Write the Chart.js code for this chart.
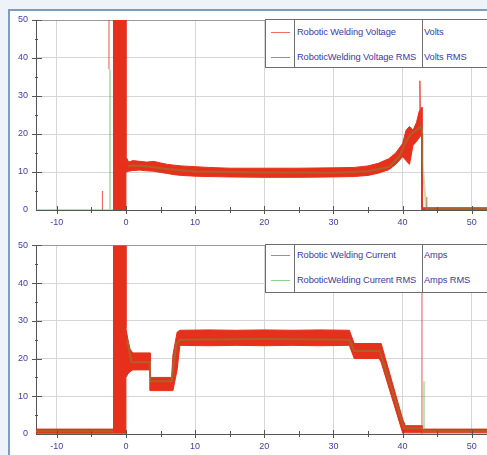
<!DOCTYPE html>
<html>
<head>
<meta charset="utf-8">
<script src="https://cdn.jsdelivr.net/npm/chart.js@4/dist/chart.umd.min.js"></script>
<style>
  html, body { margin: 0; padding: 0; }
  body { width: 487px; height: 455px; overflow: hidden; position: relative; background: #eef3f9; font-family: "Liberation Sans", Arial, sans-serif; }
  #frame { position: absolute; left: 8px; top: 9px; width: 520px; height: 480px; border: 2px solid #7d9dbd; background: #fff; }
  .wrap { position: absolute; left: 0; width: 487px; }
  #top { top: 0; height: 232px; }
  #bot { top: 232px; height: 223px; }
  .legend { position: absolute; left: 265px; width: 240px; height: 47px; border: 1px solid #6e6e6e; background: #fff; font-size: 9.3px; color: #3a3aa8; letter-spacing: -0.1px; }
  .legend .c1 { position: absolute; left: 28px; top: 0; bottom: 0; border-left: 1px solid #6e6e6e; }
  .legend .c2 { position: absolute; left: 156px; top: 0; bottom: 0; border-left: 1px solid #6e6e6e; }
  .legend .row { position: absolute; left: 0; right: 0; height: 11px; line-height: 11px; }
  .legend .sw { position: absolute; left: 5px; top: 5px; width: 19px; height: 1px; }
  .legend .nm { position: absolute; left: 31px; white-space: nowrap; }
  .legend .un { position: absolute; left: 158px; white-space: nowrap; }
</style>
</head>
<body>
<div id="frame"></div>
<div class="wrap" id="top"><canvas id="voltChart"></canvas></div>
<div class="wrap" id="bot"><canvas id="ampChart"></canvas></div>

<div class="legend" style="top:19px">
  <div class="c1"></div><div class="c2"></div>
  <div class="row" style="top:7px"><div class="sw" style="background:#f26a6a"></div><span class="nm">Robotic Welding Voltage</span><span class="un">Volts</span></div>
  <div class="row" style="top:32px"><div class="sw" style="background:#5cb85c"></div><span class="nm">RoboticWelding Voltage RMS</span><span class="un">Volts RMS</span></div>
</div>
<div class="legend" style="top:244px">
  <div class="c1"></div><div class="c2"></div>
  <div class="row" style="top:5px"><div class="sw" style="background:#f26a6a"></div><span class="nm">Robotic Welding Current</span><span class="un">Amps</span></div>
  <div class="row" style="top:30px"><div class="sw" style="background:#8fcf8f"></div><span class="nm">RoboticWelding Current RMS</span><span class="un">Amps RMS</span></div>
</div>

<script>
// x range and tick labels (seconds)
const X_MIN = -13;
const X_MAX = 52.2;
const xTicks = [-10, 0, 10, 20, 30, 40, 50];
const yTicks = [0, 10, 20, 30, 40, 50];

// voltage: noisy band read as upper / lower envelope
const voltX  = [-1.8, -1.8, 0, 0, 0.4, 1, 2, 3, 4, 5, 6, 7, 8, 10, 12, 15, 20, 25, 30, 33, 35, 36.5, 38, 39, 40, 40.5, 41, 41.5, 42, 42.4, 42.8, 42.8, 52.2];
const voltHi = [0, 50, 50, 14, 12.6, 13, 12.8, 12.6, 12.8, 12.4, 12, 11.8, 11.6, 11.4, 11.2, 11, 11, 11, 11.1, 11.2, 11.6, 12.3, 13.5, 15, 17.5, 21, 22, 21, 23, 26, 27, 0.6, 0.6];
const voltLo = [0, 0, 0, 10, 10.2, 10.4, 10.5, 10.3, 10.2, 9.9, 9.6, 9.3, 9.1, 8.9, 8.8, 8.7, 8.6, 8.6, 8.7, 8.8, 9.1, 9.7, 10.6, 12, 14, 13, 12, 17, 18, 19, 20, 0, 0];
const voltRmsX = [-13, -2.3, -2.3, -2.3, -1.8, 0.1, 0.3, 1, 3, 6, 10, 20, 30, 35, 38, 39.5, 40.5, 41.2, 42, 42.6, 42.9, 42.9, 43.4, 52.2];
const voltRmsY = [0, 0, 37, 0, 0, null, 11.6, 11.7, 11.5, 10.8, 10.1, 9.9, 9.8, 10.2, 11.3, 14, 18, 20, 21, 22, 20, 12, 0.3, 0.3];
const voltSpikeX = [-3.4, -3.4, -3.4, -2.45, -2.45, -2.45, 42.45, 42.5, 42.6, 42.6, 43.5, 43.5];
const voltSpikeY = [0, 5, null, 37, 50, null, 26, 34, 22, null, 0, 3.4];

// current
const ampX  = [-13, -1.8, -1.8, 0, 0, 0.3, 0.6, 1, 3.5, 3.5, 6.6, 6.8, 7.4, 7.8, 12, 16, 20, 24, 28, 32.3, 33, 36.6, 36.9, 40.0, 40.4, 42.8, 42.8, 52.2];
const ampHi = [1.3, 1.3, 50, 50, 28, 25, 22.5, 21.5, 21.5, 15, 15, 21, 27, 27.5, 27.6, 27.5, 27.6, 27.5, 27.6, 27.5, 24, 24, 24, 4, 2.2, 2.2, 1.3, 1.3];
const ampLo = [0.2, 0.2, 0.2, 0.2, 15, 16, 16.5, 17, 17, 11.5, 11.5, 11.5, 17, 23.5, 23.4, 23.5, 23.4, 23.5, 23.4, 23.5, 20, 20, 19, 0.3, 0.3, 0.3, 0.3, 0.3];
const ampRmsX = [-13, -1.8, -1.8, 0.2, 0.8, 3.5, 3.5, 6.6, 7.3, 7.8, 20, 32.3, 33, 36.7, 40.2, 42.8, 43.1, 43.1, 43.1, 52.2];
const ampRmsY = [0.7, 0.7, null, 25, 19, 19, 14, 14, 24, 25, 25.2, 25, 22, 22, 1.5, 1.5, 1.3, 14, 0.7, 0.7];
const ampSpikeX = [42.8, 42.8];
const ampSpikeY = [0, 50];

const RED = "rgb(230,48,28)";
const RMS = "rgba(80,180,60,0.38)";
const AXIS = "#555";
const LABEL = "#4040a8";

function pts(xs, ys) {
    return xs.map((x, i) => ({ x: x, y: ys[i] }));
}

const axisTicks = {
    id: "axisTicks",
    afterDraw(chart) {
        const { ctx, chartArea, scales } = chart;
        ctx.save();
        ctx.strokeStyle = AXIS;
        ctx.lineWidth = 1;
        for (let v = -10; v <= 50; v += 5) {
            const px = Math.round(scales.x.getPixelForValue(v)) + 0.5;
            const len = v % 10 === 0 ? 4 : 3;
            ctx.beginPath();
            ctx.moveTo(px, chartArea.bottom - len);
            ctx.lineTo(px, chartArea.bottom + len);
            ctx.stroke();
        }
        for (let v = 5; v <= 50; v += 5) {
            const py = Math.round(scales.y.getPixelForValue(v)) + 0.5;
            const major = v % 10 === 0;
            ctx.beginPath();
            ctx.moveTo(chartArea.left - (major ? 4 : 1), py);
            ctx.lineTo(chartArea.left + (major ? 6 : 2), py);
            ctx.stroke();
        }
        ctx.restore();
    },
};

function makeChart(canvasId, band, rms, spikes, topPad, xHeight) {
    return new Chart(document.getElementById(canvasId), {
        type: "line",
        data: {
            datasets: [
                {
                    // RMS on top of the band
                    data: pts(rms.x, rms.y),
                    borderColor: RMS,
                    borderWidth: 2,
                    pointRadius: 0,
                    spanGaps: false,
                    fill: false,
                },
                {
                    data: pts(spikes.x, spikes.y),
                    borderColor: "rgba(232,60,40,0.85)",
                    borderWidth: 1,
                    pointRadius: 0,
                    spanGaps: false,
                    fill: false,
                },
                {
                    data: pts(band.x, band.hi),
                    borderColor: RED,
                    borderWidth: 1,
                    backgroundColor: RED,
                    pointRadius: 0,
                    fill: "+1",
                },
                {
                    data: pts(band.x, band.lo),
                    borderColor: RED,
                    borderWidth: 1,
                    pointRadius: 0,
                    fill: false,
                },
            ],
        },
        options: {
            responsive: true,
            maintainAspectRatio: false,
            animation: false,
            events: [],
            layout: { padding: { left: 0, top: topPad, right: 0, bottom: 0 } },
            plugins: { legend: { display: false }, tooltip: { enabled: false } },
            scales: {
                x: {
                    type: "linear",
                    min: X_MIN,
                    max: X_MAX,
                    afterBuildTicks: (s) => { s.ticks = xTicks.map((v) => ({ value: v })); },
                    afterFit: (s) => { s.height = xHeight; },
                    grid: { color: "#d6d6d6", drawTicks: false },
                    border: { color: AXIS },
                    ticks: { color: LABEL, padding: 7, font: { family: "Liberation Sans", size: 9 } },
                },
                y: {
                    min: 0,
                    max: 50,
                    afterBuildTicks: (s) => { s.ticks = yTicks.map((v) => ({ value: v })); },
                    afterFit: (s) => { s.width = 36; },
                    grid: {
                        color: (c) => (c.tick && c.tick.value === 50 ? "#9a9a9a" : "#d6d6d6"),
                        drawTicks: false,
                    },
                    border: { color: AXIS },
                    ticks: { color: LABEL, padding: 8, font: { family: "Liberation Sans", size: 9 } },
                },
            },
        },
        plugins: [axisTicks],
    });
}

makeChart(
    "voltChart",
    { x: voltX, hi: voltHi, lo: voltLo },
    { x: voltRmsX, y: voltRmsY },
    { x: voltSpikeX, y: voltSpikeY },
    20, 22
);
makeChart(
    "ampChart",
    { x: ampX, hi: ampHi, lo: ampLo },
    { x: ampRmsX, y: ampRmsY },
    { x: ampSpikeX, y: ampSpikeY },
    13, 21
);
</script>
</body>
</html>
